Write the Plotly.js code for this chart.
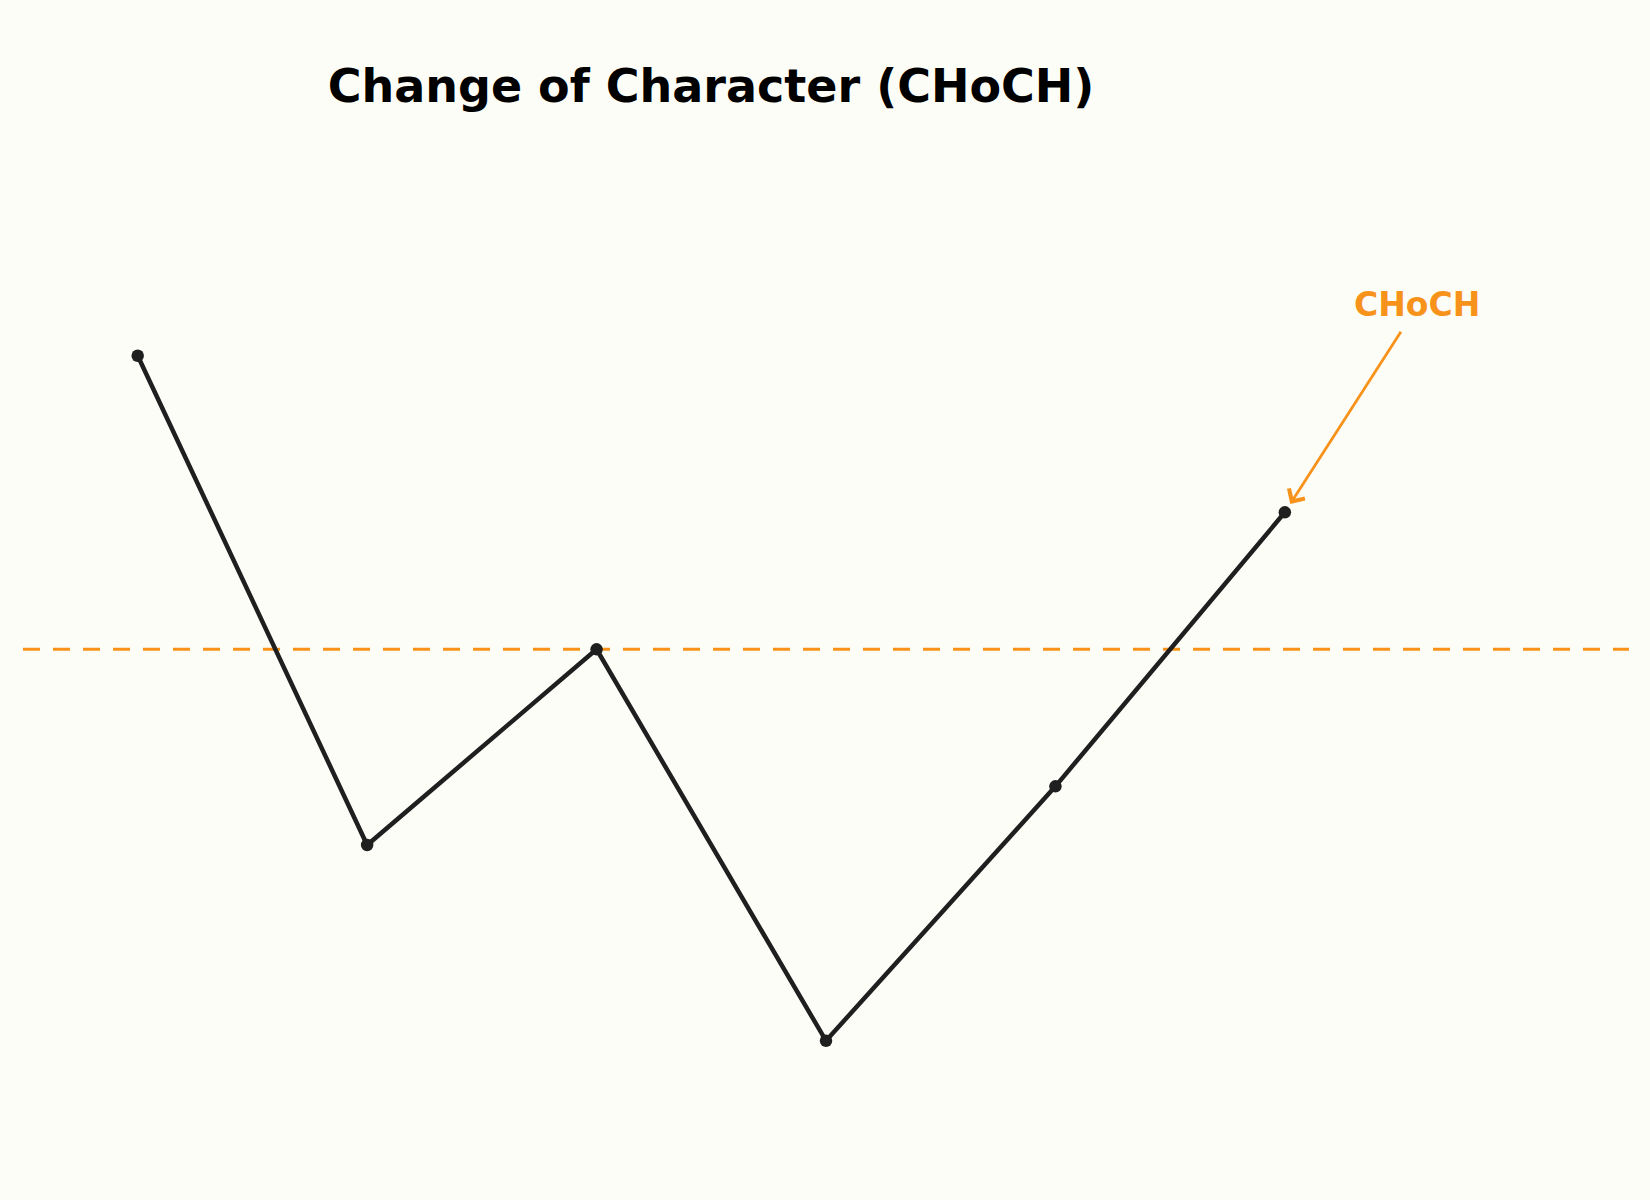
<!DOCTYPE html>
<html>
<head>
<meta charset="utf-8">
<script src="https://cdn.plot.ly/plotly-3.0.1.min.js"></script>
<style>html,body{margin:0;padding:0;background:#FDFDF8;}</style>
</head>
<body>
<div id="chart" style="width:1650px;height:1200px;"></div>
<script>
// Data
const xIndex = [0, 1, 2, 3, 4, 5];
const priceValues = [5, 2.5, 3.5, 1.5, 2.8, 4.2];
const breakLevel = 3.5;
const chochLabel = "CHoCH";
const chochPoint = [5, 4.2];
const chochTail = [5.51, 5.13];
const chochTextPos = [5.574, 5.262];
const chartTitle = "Change of Character (CHoCH)";

const orange = '#F7931A';
const dark = '#1F1F1F';
const bg = '#FDFDF8';
const font = '"DejaVu Sans", Verdana, sans-serif';

const trace = {
  x: xIndex,
  y: priceValues,
  mode: 'lines+markers',
  type: 'scatter',
  line: {color: dark, width: 4.5},
  marker: {color: dark, size: 12.5},
  hoverinfo: 'skip',
  showlegend: false
};

const layout = {
  width: 1650,
  height: 1200,
  paper_bgcolor: bg,
  plot_bgcolor: bg,
  margin: {l: 23, r: 21, t: 150, b: 60, pad: 0},
  title: {
    text: chartTitle,
    font: {family: font, size: 46, color: '#000000', weight: 'bold'},
    x: 711 / 1650,
    xref: 'container',
    xanchor: 'center',
    y: 1 - 85.5 / 1200,
    yref: 'container',
    yanchor: 'middle'
  },
  xaxis: {range: [-0.5, 6.5], visible: false, showgrid: false, zeroline: false, fixedrange: true},
  yaxis: {range: [0.993, 6.051], visible: false, showgrid: false, zeroline: false, fixedrange: true},
  shapes: [{
    type: 'line', xref: 'paper', yref: 'y',
    x0: 0, x1: 1, y0: breakLevel, y1: breakLevel,
    line: {color: orange, width: 3, dash: '17px,13px'},
    layer: 'below'
  }],
  annotations: [
    {
      x: chochPoint[0], y: chochPoint[1], xref: 'x', yref: 'y',
      ax: chochTail[0], ay: chochTail[1], axref: 'x', ayref: 'y',
      text: '', showarrow: true,
      arrowhead: 4, arrowsize: 1.3, arrowwidth: 2.8, arrowcolor: orange,
      standoff: 10
    },
    {
      x: chochTextPos[0], y: chochTextPos[1], xref: 'x', yref: 'y',
      text: chochLabel, showarrow: false,
      xanchor: 'center', yanchor: 'middle',
      font: {family: font, size: 33, color: orange, weight: 'bold'}
    }
  ]
};

Plotly.newPlot('chart', [trace], layout, {displayModeBar: false, staticPlot: true});
</script>
</body>
</html>
